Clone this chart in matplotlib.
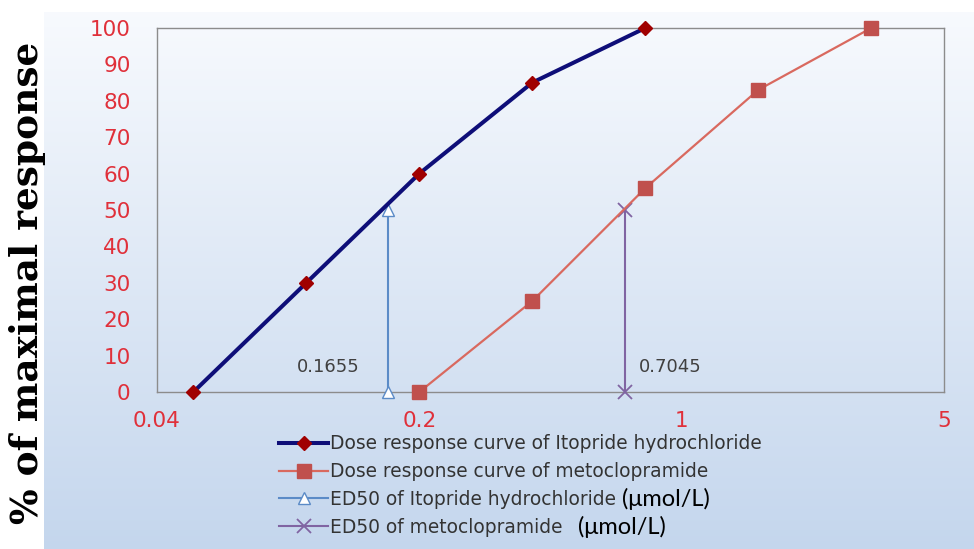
import matplotlib
matplotlib.use("Agg")
import matplotlib.pyplot as plt
import numpy as np

# dose (umol/L) and % of maximal response
itopride_dose = [0.05, 0.1, 0.2, 0.4, 0.8]
itopride_resp = [0, 30, 60, 85, 100]
meto_dose = [0.2, 0.4, 0.8, 1.6, 3.2]
meto_resp = [0, 25, 56, 83, 100]

ed50_itopride = 0.1655
ed50_meto = 0.7045
ed50_resp = [0, 50]

x_ticks = [0.04, 0.2, 1, 5]
x_labels = ["0.04", "0.2", "1", "5"]
y_ticks = list(range(0, 101, 10))

labels = [
    "Dose response curve of Itopride hydrochloride",
    "Dose response curve of metoclopramide",
    "ED50 of Itopride hydrochloride",
    "ED50 of metoclopramide",
]

W, H = 974, 549
fig = plt.figure(figsize=(W / 100, H / 100), dpi=100)
fig.patch.set_facecolor("white")

# chart area gradient
bg = fig.add_axes([44 / W, 0, 1 - 44 / W, 1 - 12 / H], zorder=-5)
top = np.array([0.97, 0.98, 0.995])
bot = np.array([0.77, 0.84, 0.93])
t = np.linspace(0, 1, 256)[:, None]
grad = top[None, :] * (1 - t) + bot[None, :] * t
bg.imshow(grad[:, None, :].repeat(2, axis=1), aspect="auto", extent=[0, 1, 0, 1])
bg.set_axis_off()

ax = fig.add_axes([157 / W, 1 - 392 / H, 787 / W, 364 / H])
ax.set_facecolor("none")
ax.set_xscale("log")
ax.set_xlim(0.04, 5)
ax.set_ylim(0, 100)

red = "#E0303A"
ax.set_xticks(x_ticks)
ax.set_xticklabels(x_labels)
ax.minorticks_off()
ax.set_yticks(y_ticks)
ax.tick_params(axis="both", length=0, labelcolor=red, labelsize=15.5)
ax.tick_params(axis="y", pad=19)
ax.tick_params(axis="x", pad=14)
for s in ax.spines.values():
    s.set_color("#8C8C8C")
    s.set_linewidth(1)

h1, = ax.plot(itopride_dose, itopride_resp, color="#0E0E78", lw=2.9,
              marker="D", ms=7, mfc="#A00000", mec="#A00000", clip_on=False, zorder=4)
h2, = ax.plot(meto_dose, meto_resp, color="#D9695F", lw=1.6,
              marker="s", ms=9.5, mfc="#C0504D", mec="#C0504D", clip_on=False, zorder=4)
h3, = ax.plot([ed50_itopride] * 2, ed50_resp, color="#5B8BC7", lw=1.5,
              marker="^", ms=9, mfc="white", mec="#5B8BC7", clip_on=False, zorder=3)
h4, = ax.plot([ed50_meto] * 2, ed50_resp, color="#8064A2", lw=1.5,
              marker="x", ms=10, mew=1.3, clip_on=False, zorder=3)

ax.annotate(f"{ed50_itopride:.4f}", (ed50_itopride, 7), xytext=(-29, 0),
            textcoords="offset pixels", ha="right", va="center",
            fontsize=13, color="#404040")
ax.annotate(f"{ed50_meto:.4f}", (ed50_meto, 7), xytext=(14, 0),
            textcoords="offset pixels", ha="left", va="center",
            fontsize=13, color="#404040")

fig.text(28 / W, 1 - 283 / H, "% of maximal response", rotation=90,
         ha="center", va="center", fontsize=27, fontweight="bold",
         family="DejaVu Serif", color="black")

leg = fig.legend([h1, h2, h3, h4], labels, loc="upper left",
                 bbox_to_anchor=(272 / W, 1 - 427 / H), frameon=False,
                 fontsize=13.4, handlelength=2.6, handletextpad=0.12,
                 labelspacing=0.47, borderaxespad=0)
for txt in leg.get_texts():
    txt.set_color("#333333")

# unit suffix in a different font after the ED50 entries
fig.canvas.draw()
r = fig.canvas.get_renderer()
for i, gap in [(2, 6), (3, 15)]:
    bb = leg.get_texts()[i].get_window_extent(r)
    fig.text((bb.x1 + gap) / W, (bb.y0 + bb.y1) / 2 / H, "(\u03bcmol/L)",
             ha="left", va="center", fontsize=17,
             family=["Lato", "Open Sans", "DejaVu Sans"], color="black")

fig.savefig("out.png", dpi=100)
